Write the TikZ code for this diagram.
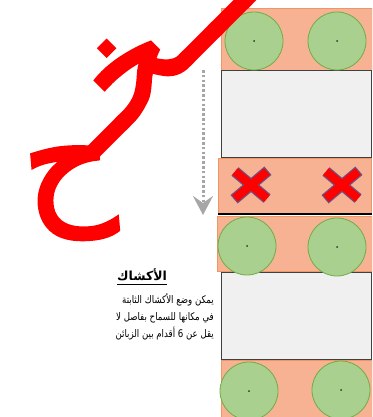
\documentclass[tikz,border=0pt]{standalone}
\usepackage{fontspec}
\newfontfamily\arabicfont[Script=Arabic, FakeStretch=0.82]{DejaVu Sans}
\newfontfamily\arabicbig[Script=Arabic]{DejaVu Sans}
\newfontfamily\arabicheavy[Script=Arabic, FakeBold=2.5]{DejaVu Sans}
\TeXXeTstate=1
\usetikzlibrary{arrows.meta}
\definecolor{boxorange}{RGB}{246,178,146}
\definecolor{boxborder}{RGB}{240,150,100}
\definecolor{circfill}{RGB}{169,208,142}
\definecolor{circborder}{RGB}{112,173,71}
\definecolor{greybox}{RGB}{240,240,240}
\definecolor{arrowgrey}{RGB}{166,166,166}
\definecolor{xoutline}{RGB}{110,80,130}
\begin{document}
\begin{tikzpicture}[x=1pt,y=-1pt,
  kiosk/.style={draw=boxborder, fill=boxorange, line width=1pt, rectangle, inner sep=0pt, anchor=north west},
  gapbox/.style={draw=black!75, fill=greybox, line width=1.2pt, rectangle, inner sep=0pt, anchor=north west},
  person/.style={circle, draw=circborder, fill=circfill, line width=0.8pt, minimum size=58pt, inner sep=0pt},
  nocross/.pic={
    \draw[xoutline, line width=11pt, shorten <=-1.2pt, shorten >=-1.2pt] (-16,-13.5) -- (16,13.5) (-16,13.5) -- (16,-13.5);
    \draw[red, line width=8.5pt] (-16,-13.5) -- (16,13.5) (-16,13.5) -- (16,-13.5);
  },
  arabtext/.style={font=\arabicfont\fontsize{10.5}{17}\selectfont, inner sep=0pt},
  bigred/.style={red, inner sep=0pt, font=\arabicheavy\fontsize{140}{140}\selectfont}
]
\useasboundingbox (0,0) rectangle (372,417);
\clip (0,0) rectangle (372,417);

% kiosks and gaps
\node[kiosk, minimum width=151pt, minimum height=62pt] (k1) at (221,8) {};
\node[gapbox, minimum width=150pt, minimum height=87pt] (g1) at (221,70) {};
\node[kiosk, minimum width=153pt, minimum height=55pt] (k2) at (218,158) {};
\node[kiosk, minimum width=155pt, minimum height=55pt] (k3) at (217,216) {};
\draw[black, line width=1.2pt] (k2.south west) -- (k2.south east);
\node[gapbox, minimum width=150pt, minimum height=87pt] (g2) at (221,272) {};
\node[kiosk, minimum width=151pt, minimum height=58pt] (k4) at (221,360) {};

% people
\foreach \n/\x/\y in {p1/254/41, p2/337/41, p3/247/246, p4/337/247, p5/249/391, p6/341/390}{
  \node[person] (\n) at (\x,\y) {};
  \fill[black!80] (\n.center) circle (1pt);
}

% crosses
\pic at (251,185) {nocross};
\pic at (342,185) {nocross};

% arrow
\coordinate (as) at (203,70);
\coordinate (ae) at (203,215);
\draw[arrowgrey, line width=3pt, dash pattern=on 2.6pt off 2.2pt,
  -{Stealth[length=19pt,width=20pt,inset=7pt]}] (as) -- (ae);

% text
\node[inner sep=0pt, font=\arabicbig\bfseries\fontsize{12.5}{13}\selectfont, anchor=base west] (title) at (117,280) {\beginR الأكشاك\endR};
\draw[line width=0.9pt] ([yshift=-4pt]title.base west) -- ([yshift=-4pt]title.base east);
\node[arabtext, align=right, anchor=north east] (body) at (214,293)
  {\beginR يمكن وضع الأكشاك الثابتة\endR\\
   \beginR في مكانها للسماح بفاصل لا\endR\\
   \beginR يقل عن 6 أقدام بين الزبائن\endR};

% big red text
\node[bigred, rotate=45, anchor=base west] (wm1) at (98,156) {\beginR ـــخـ\endR};
\node[bigred, rotate=5, anchor=center] (wm2) at (70,194) {\beginR ح\endR};
\end{tikzpicture}
\end{document}
